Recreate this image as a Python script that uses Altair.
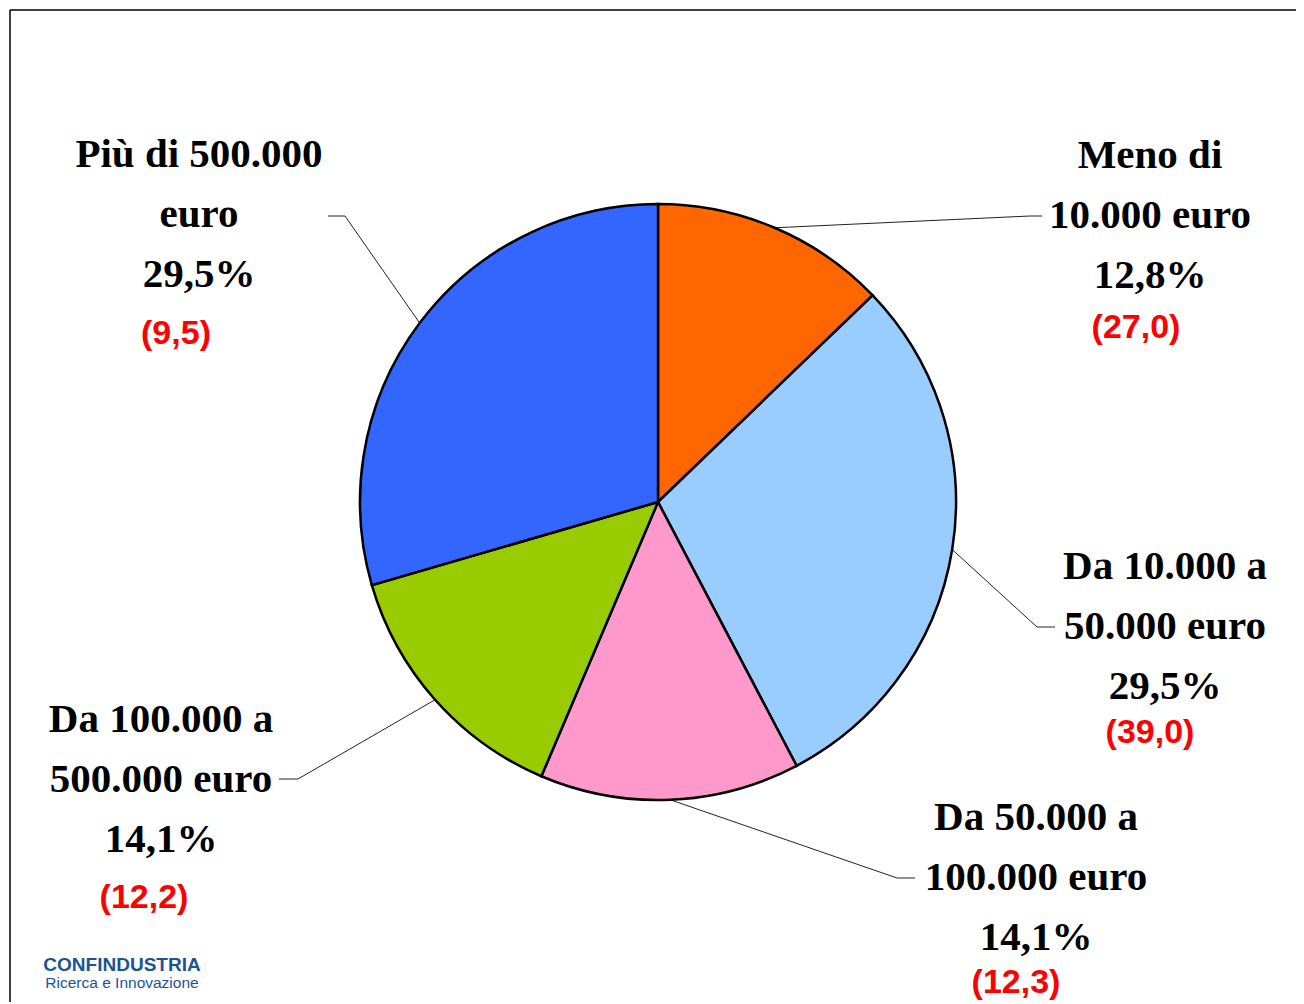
import math
import altair as alt
import pandas as pd

# ---------------- data ----------------
categories = [
    "Meno di 10.000 euro",
    "Da 10.000 a 50.000 euro",
    "Da 50.000 a 100.000 euro",
    "Da 100.000 a 500.000 euro",
    "Più di 500.000 euro",
]
label_lines = [
    ["Meno di", "10.000 euro"],
    ["Da 10.000 a", "50.000 euro"],
    ["Da 50.000 a", "100.000 euro"],
    ["Da 100.000 a", "500.000 euro"],
    ["Più di 500.000", "euro"],
]
shares = [12.8, 29.5, 14.1, 14.1, 29.5]
previous = [27.0, 39.0, 12.3, 12.2, 9.5]
colors = ["#FF6600", "#99CCFF", "#FF99CC", "#99CC00", "#3366FF"]
logo_lines = ["CONFINDUSTRIA", "Ricerca e Innovazione"]

# ---------------- layout (page pixels) ----------------
W, H = 1288, 994
OX, OY = 8, 8
CX, CY, R = 658, 502, 298
label_anchor = [(1150, 168), (1165, 579), (1036, 830), (161, 732), (199, 167)]
red_anchor = [(1136, 338), (1150, 743), (1016, 993), (144, 908), (176, 344)]
elbow = [(1030, 216), (1037, 627), (897, 878), (298, 779), (345, 216)]
line_end = [(1042, 216), (1055, 627), (915, 878), (279, 779), (328, 216)]
LINE_STEP = 60
logo_pos = [(122, 971), (122, 988)]


def it(v, pct=False):
    s = f"{v:.1f}".replace(".", ",")
    return s + "%" if pct else s


pie_df = pd.DataFrame({
    "category": categories,
    "share": shares,
    "idx": list(range(len(categories))),
})

black_rows, red_rows, leader_rows = [], [], []
total = sum(shares)
cum = 0.0
for i, cat in enumerate(categories):
    cx, y0 = label_anchor[i]
    lines = label_lines[i] + [it(shares[i], pct=True)]
    for k, t in enumerate(lines):
        black_rows.append({"x": cx, "y": y0 + k * LINE_STEP, "text": t})
    red_rows.append({"x": red_anchor[i][0], "y": red_anchor[i][1], "text": f"({it(previous[i])})"})
    mid = (cum + shares[i] / 2) / total * 2 * math.pi
    cum += shares[i]
    sx = CX + R * math.sin(mid)
    sy = CY - R * math.cos(mid)
    pts = [(sx, sy), elbow[i], line_end[i]]
    for k, (px, py) in enumerate(pts):
        leader_rows.append({"category": cat, "k": k, "x": px, "y": py})

black_df = pd.DataFrame(black_rows)
red_df = pd.DataFrame(red_rows)
leader_df = pd.DataFrame(leader_rows)
logo_df = pd.DataFrame({
    "text": logo_lines,
    "x": [p[0] for p in logo_pos],
    "y": [p[1] for p in logo_pos],
})

xs = alt.Scale(domain=[OX, OX + W], range=[0, W], nice=False, zero=False)
ys = alt.Scale(domain=[OY, OY + H], range=[0, H], nice=False, zero=False)
X = lambda: alt.X("x:Q", scale=xs, axis=None)
Y = lambda: alt.Y("y:Q", scale=ys, axis=None)

frame_top = alt.Chart(alt.Data(values=[{}])).mark_rule(color="black", strokeWidth=1.5).encode(
    x=alt.value(10 - OX), x2=alt.value(W), y=alt.value(10 - OY)
)
frame_left = alt.Chart(alt.Data(values=[{}])).mark_rule(color="black", strokeWidth=1.5).encode(
    x=alt.value(10 - OX), y=alt.value(10 - OY), y2=alt.value(H)
)

pie = alt.Chart(pie_df).mark_arc(radius=R, stroke="black", strokeWidth=2.5).encode(
    theta=alt.Theta("share:Q", stack=True),
    order=alt.Order("idx:Q", sort="ascending"),
    color=alt.Color("category:N", scale=alt.Scale(domain=categories, range=colors), legend=None),
    x=alt.value(CX - OX),
    y=alt.value(CY - OY),
)

leaders = alt.Chart(leader_df).mark_line(color="#222222", strokeWidth=1).encode(
    x=X(), y=Y(), detail="category:N", order="k:Q"
)

black_text = alt.Chart(black_df).mark_text(
    font="Liberation Serif", fontWeight="bold", fontSize=41,
    align="center", baseline="alphabetic", color="black",
).encode(x=X(), y=Y(), text="text:N")

red_text = alt.Chart(red_df).mark_text(
    font="Liberation Sans", fontWeight="bold", fontSize=34,
    align="center", baseline="alphabetic", color="#FF0000",
).encode(x=X(), y=Y(), text="text:N")

logo1 = alt.Chart(logo_df.iloc[[0]]).mark_text(
    font="Liberation Sans", fontWeight="bold", fontSize=19,
    align="center", baseline="alphabetic", color="#1B5494",
).encode(x=X(), y=Y(), text="text:N")
logo2 = alt.Chart(logo_df.iloc[[1]]).mark_text(
    font="Liberation Sans", fontSize=15.5,
    align="center", baseline="alphabetic", color="#1B5494",
).encode(x=X(), y=Y(), text="text:N")

chart = alt.layer(
    frame_top, frame_left, leaders, pie, black_text, red_text, logo1, logo2
).properties(
    width=W, height=H, padding=0, autosize=alt.AutoSizeParams(type="none"),
    background="white",
).configure_view(strokeWidth=0)

chart.save("out.html", embed_options={"renderer": "svg", "actions": False})
